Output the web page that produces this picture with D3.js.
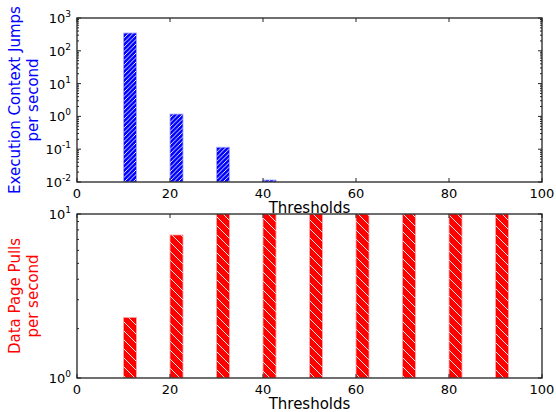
<!DOCTYPE html>
<html>
<head>
<meta charset="utf-8">
<script src="https://cdn.jsdelivr.net/npm/d3@7"></script>
<style>
  body { margin: 0; background: #fff; }
  text { font-family: "DejaVu Sans", sans-serif; }
</style>
</head>
<body>
<svg id="chart" width="556" height="412"></svg>
<script>
// values
const thresholds = [10, 20, 30, 40, 50, 60, 70, 80, 90];
const jumpsPerSec = [349, 1.18, 0.115, 0.0115, 0, 0, 0, 0, 0];
const pullsPerSec = [2.34, 7.45, 10, 10, 10, 10, 10, 10, 10];
const xTicks = [0, 20, 40, 60, 80, 100];
const barWidth = 2.8;

const svg = d3.select("#chart");
const left = 77, right = 542;

const x = d3.scaleLinear().domain([0, 100]).range([left, right]);

const defs = svg.append("defs");

// hatch patterns
function hatch(id, color, step, dir) {
    const p = defs.append("pattern")
        .attr("id", id)
        .attr("patternUnits", "userSpaceOnUse")
        .attr("width", step).attr("height", step);
    p.append("rect").attr("width", step).attr("height", step).attr("fill", color);
    const s = step;
    const d = dir === "/"
        ? `M0,${s} L${s},0 M${-s/2},${s/2} L${s/2},${-s/2} M${s/2},${s*1.5} L${s*1.5},${s/2}`
        : `M0,0 L${s},${s} M${-s/2},${s/2} L${s/2},${s*1.5} M${s/2},${-s/2} L${s*1.5},${s/2}`;
    p.append("path").attr("d", d).attr("stroke", "#fff").attr("stroke-width", 0.9);
}
hatch("hatchBlue", "#0000ff", 4.5, "/");
hatch("hatchRed", "#ff0000", 9, "\\");

function panel(cfg) {
    const { top, bottom, domain, values, fill, edge, label, labelColor, id } = cfg;
    const y = d3.scaleLog().domain(domain).range([bottom, top]);
    const g = svg.append("g");

    defs.append("clipPath").attr("id", id)
        .append("rect").attr("x", left).attr("y", top)
        .attr("width", right - left).attr("height", bottom - top);

    // bars
    g.append("g").attr("clip-path", `url(#${id})`)
        .selectAll("rect")
        .data(thresholds.map((t, i) => ({ t, v: values[i] })).filter(d => d.v > 0))
        .join("rect")
        .attr("x", d => x(d.t))
        .attr("width", d => x(d.t + barWidth) - x(d.t))
        .attr("y", d => y(d.v))
        .attr("height", d => bottom - y(d.v))
        .attr("fill", `url(#${fill})`)
        .attr("stroke", edge)
        .attr("stroke-width", 0.8);

    // frame
    g.append("rect")
        .attr("x", left).attr("y", top)
        .attr("width", right - left).attr("height", bottom - top)
        .attr("fill", "none").attr("stroke", "#222").attr("stroke-width", 1.3);

    // x ticks (inward, top and bottom)
    const tk = g.append("g").attr("stroke", "#222").attr("stroke-width", 1);
    xTicks.forEach(t => {
        tk.append("line").attr("x1", x(t)).attr("x2", x(t)).attr("y1", bottom).attr("y2", bottom - 4);
        tk.append("line").attr("x1", x(t)).attr("x2", x(t)).attr("y1", top).attr("y2", top + 4);
    });
    g.selectAll(".xl").data(xTicks).join("text")
        .attr("x", d => x(d)).attr("y", bottom + 16)
        .attr("text-anchor", "middle").attr("font-size", 13).attr("fill", "#000")
        .text(d => d);

    // y ticks: majors and minors
    const [lo, hi] = domain;
    const eLo = Math.round(Math.log10(lo)), eHi = Math.round(Math.log10(hi));
    for (let e = eLo; e <= eHi; e++) {
        const v = Math.pow(10, e);
        tk.append("line").attr("x1", left).attr("x2", left + 4).attr("y1", y(v)).attr("y2", y(v));
        tk.append("line").attr("x1", right).attr("x2", right - 4).attr("y1", y(v)).attr("y2", y(v));
        const lt = g.append("text")
            .attr("x", left - 6).attr("y", y(v) + 5)
            .attr("text-anchor", "end").attr("font-size", 13).attr("fill", "#000");
        lt.append("tspan").text("10");
        lt.append("tspan").attr("dy", -6).attr("font-size", 9).text(e);
        if (e < eHi) {
            for (let m = 2; m <= 9; m++) {
                const mv = m * v;
                tk.append("line").attr("x1", left).attr("x2", left + 2).attr("y1", y(mv)).attr("y2", y(mv));
                tk.append("line").attr("x1", right).attr("x2", right - 2).attr("y1", y(mv)).attr("y2", y(mv));
            }
        }
    }

    // axis titles
    g.append("text")
        .attr("x", (left + right) / 2).attr("y", bottom + 31)
        .attr("text-anchor", "middle").attr("font-size", 15).attr("fill", "#000")
        .text("Thresholds");

    const cy = (top + bottom) / 2;
    const yl = g.append("text")
        .attr("transform", `translate(20,${cy}) rotate(-90)`)
        .attr("text-anchor", "middle").attr("font-size", 15).attr("fill", labelColor);
    yl.append("tspan").attr("x", 0).attr("dy", 0).text(label[0]);
    yl.append("tspan").attr("x", 0).attr("dy", 18).text(label[1]);
}

panel({
    id: "clipTop", top: 18, bottom: 182, domain: [0.01, 1000],
    values: jumpsPerSec, fill: "hatchBlue", edge: "#a8a8ff",
    label: ["Execution Context Jumps", "per second"], labelColor: "#0000ff"
});
panel({
    id: "clipBottom", top: 214, bottom: 378, domain: [1, 10],
    values: pullsPerSec, fill: "hatchRed", edge: "#ffa8a8",
    label: ["Data Page Pulls", "per second"], labelColor: "#ff0000"
});
</script>
</body>
</html>
